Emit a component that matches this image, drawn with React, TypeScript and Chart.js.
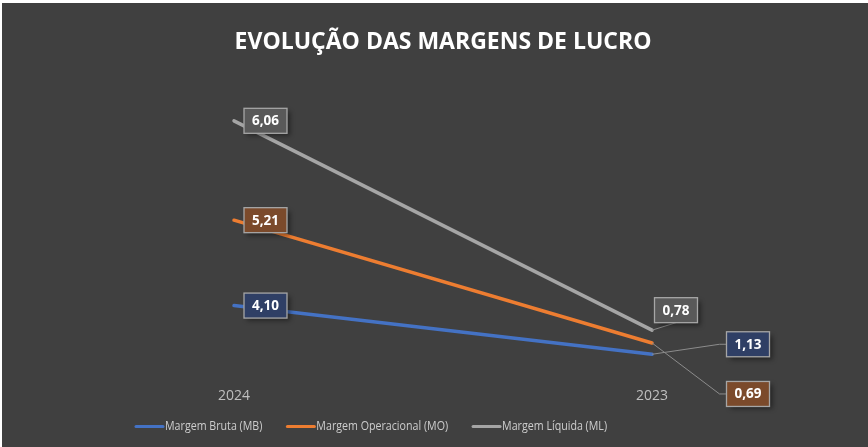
import React, { useEffect, useRef } from 'react';
import { Chart, registerables } from 'chart.js';

Chart.register(...registerables);

// ---- data ----
const categories = ['2024', '2023'];
const margemBruta = [4.1, 1.13];
const margemOperacional = [5.21, 0.69];
const margemLiquida = [6.06, 0.78];
const seriesNames = ['Margem Bruta (MB)', 'Margem Operacional (MO)', 'Margem Líquida (ML)'];
const chartTitle = 'EVOLUÇÃO DAS MARGENS DE LUCRO';

// ---- styles ----
const FONT = "'Open Sans', 'DejaVu Sans', sans-serif";
const lineColors = ['#4472C4', '#ED7D31', '#A5A5A5'];
const labelFills = ['#2f3f65', '#7b4a2b', '#595959'];
const labelPlacement = [
  [{ dx: 31.5, dy: 0, leader: false }, { dx: 96, dy: -10, leader: true, anchor: 'left' }],
  [{ dx: 31.5, dy: 0, leader: false }, { dx: 96, dy: 51, leader: true, anchor: 'left' }],
  [{ dx: 31.5, dy: 0, leader: false }, { dx: 24, dy: -20, leader: true, anchor: 'bottom' }],
];

const fmt = (v: number) => v.toFixed(2).replace('.', ',');

const dataLabelPlugin = {
  id: 'boxLabels',
  afterDatasetsDraw(chart: any) {
    const ctx = chart.ctx as CanvasRenderingContext2D;
    const w = 43;
    const h = 25;
    chart.data.datasets.forEach((ds: any, di: number) => {
      const meta = chart.getDatasetMeta(di);
      meta.data.forEach((pt: any, i: number) => {
        const pl = labelPlacement[di][i];
        const cx = pt.x + pl.dx;
        const cy = pt.y + pl.dy;
        ctx.save();
        if (pl.leader) {
          ctx.strokeStyle = '#8c8c8c';
          ctx.lineWidth = 1;
          ctx.beginPath();
          ctx.moveTo(pt.x, pt.y);
          if (pl.anchor === 'bottom') {
            ctx.lineTo(cx, cy + h / 2);
          } else {
            ctx.lineTo(cx - w / 2 - 7, cy);
            ctx.lineTo(cx - w / 2, cy);
          }
          ctx.stroke();
        }
        ctx.shadowColor = 'rgba(0,0,0,0.45)';
        ctx.shadowBlur = 5;
        ctx.shadowOffsetX = 3;
        ctx.shadowOffsetY = 3;
        ctx.fillStyle = labelFills[di];
        ctx.fillRect(cx - w / 2, cy - h / 2, w, h);
        ctx.shadowColor = 'transparent';
        ctx.strokeStyle = '#a6a6a6';
        ctx.lineWidth = 1.3;
        ctx.strokeRect(cx - w / 2, cy - h / 2, w, h);
        ctx.fillStyle = '#ffffff';
        ctx.font = `bold 13.5px ${FONT}`;
        ctx.textAlign = 'center';
        ctx.textBaseline = 'middle';
        ctx.fillText(fmt(ds.data[i]), cx, cy + 0.5);
        ctx.restore();
      });
    });
  },
};

const legendPlugin = {
  id: 'customLegend',
  afterDraw(chart: any) {
    const ctx = chart.ctx as CanvasRenderingContext2D;
    const squeeze = 0.79;
    let x = 133;
    const y = 423.5;
    ctx.save();
    ctx.font = `13.5px ${FONT}`;
    ctx.textBaseline = 'middle';
    ctx.textAlign = 'left';
    chart.data.datasets.forEach((ds: any) => {
      ctx.strokeStyle = ds.borderColor;
      ctx.lineWidth = 3;
      ctx.lineCap = 'round';
      ctx.beginPath();
      ctx.moveTo(x + 1, y);
      ctx.lineTo(x + 28, y);
      ctx.stroke();
      ctx.fillStyle = '#cdcdcd';
      const tx = x + 30;
      ctx.save();
      ctx.translate(tx, y);
      ctx.scale(squeeze, 1);
      ctx.fillText(ds.label, 0, 0);
      ctx.restore();
      x = tx + ctx.measureText(ds.label).width * squeeze + 24;
    });
    ctx.restore();
  },
};

export default function App() {
  const ref = useRef<HTMLCanvasElement | null>(null);

  useEffect(() => {
    if (!ref.current) return;
    document.body.style.margin = '0';
    Chart.defaults.font.family = FONT;
    const seriesData = [margemBruta, margemOperacional, margemLiquida];
    const chart = new Chart(ref.current, {
      type: 'line',
      data: {
        labels: categories,
        datasets: seriesData.map((d, i) => ({
          label: seriesNames[i],
          data: d,
          borderColor: lineColors[i],
          backgroundColor: lineColors[i],
          borderWidth: 3.5,
          borderCapStyle: 'round',
          pointRadius: 0,
          pointHoverRadius: 0,
          tension: 0,
          fill: false,
        })),
      },
      options: {
        animation: false,
        responsive: false,
        maintainAspectRatio: false,
        layout: { padding: { left: 23, right: 7, top: 0, bottom: 27.4 } },
        plugins: {
          legend: { display: false },
          tooltip: { enabled: false },
          title: {
            display: true,
            text: chartTitle,
            color: '#ffffff',
            font: { family: FONT, size: 23, weight: 'bold' },
            padding: { top: 25.7, bottom: 21.4 },
          },
        },
        scales: {
          x: {
            offset: true,
            grid: { display: false, drawTicks: false },
            border: { display: false },
            ticks: { color: '#bfbfbf', font: { family: FONT, size: 14 }, padding: 15 },
          },
          y: {
            display: false,
            stacked: true,
            min: 0,
            max: 18,
          },
        },
      },
      plugins: [dataLabelPlugin, legendPlugin],
    });
    return () => chart.destroy();
  }, []);

  return (
    <div
      style={{
        position: 'fixed',
        left: 2,
        top: 3,
        width: 866,
        height: 444,
        background: '#404040',
      }}
    >
      <canvas ref={ref} width={866} height={444} style={{ display: 'block' }} />
    </div>
  );
}
